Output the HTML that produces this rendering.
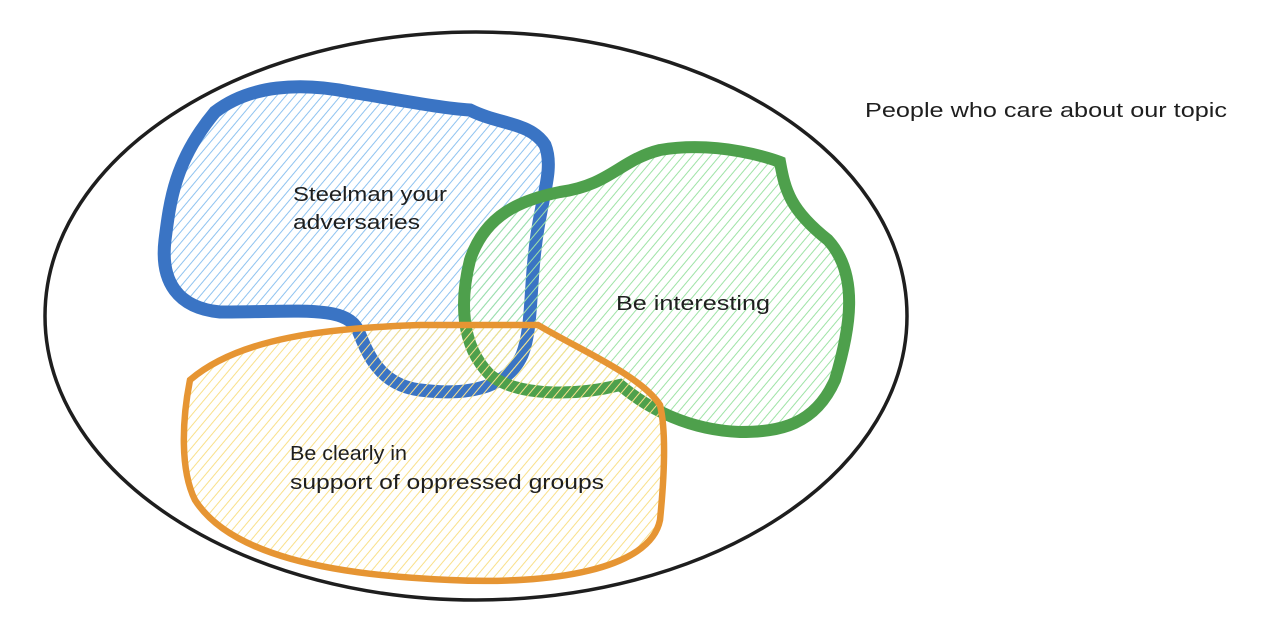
<!DOCTYPE html>
<html><head><style>
html,body{margin:0;padding:0;background:#fff;width:1286px;height:638px;overflow:hidden}
svg text{font-family:"Liberation Sans",sans-serif;fill:#1e1e1e}
</style></head><body>
<svg width="1286" height="638" viewBox="0 0 1286 638" xmlns="http://www.w3.org/2000/svg">
<defs>
<pattern id="hb" width="7" height="7" patternUnits="userSpaceOnUse" patternTransform="rotate(40)"><line x1="0" y1="0" x2="0" y2="7" stroke="#8fc3f0" stroke-width="2"/></pattern>
<pattern id="hg" width="7" height="7" patternUnits="userSpaceOnUse" patternTransform="rotate(40)"><line x1="0" y1="0" x2="0" y2="7" stroke="#9ee3a6" stroke-width="2"/></pattern>
<pattern id="ho" width="7" height="7" patternUnits="userSpaceOnUse" patternTransform="rotate(40)"><line x1="0" y1="0" x2="0" y2="7" stroke="#f9e08a" stroke-width="2"/></pattern>
</defs>
<ellipse cx="476" cy="316" rx="431" ry="284" fill="none" stroke="#1e1e1e" stroke-width="3.5"/>
<path d="M215,112 C250,85 300,82 350,92 C400,100 440,108 470,110 C500,125 530,122 545,145 C555,170 540,200 535,250 C530,290 532,330 522,355 C505,392 460,395 420,390 C380,385 368,355 358,330 C345,305 300,312 220,312 C178,308 160,282 165,240 C170,200 175,160 215,112 Z" fill="url(#hb)" stroke="#3a74c4" stroke-width="13"/>
<path d="M470,260 C485,215 520,200 560,192 C610,185 620,160 660,150 C720,140 775,160 780,162 C785,190 790,210 828,240 C860,275 850,330 835,380 C815,425 780,432 740,432 C690,430 650,410 620,385 C580,395 520,398 490,375 C460,345 460,300 470,260 Z" fill="url(#hg)" stroke="#4ea04c" stroke-width="12"/>
<path d="M190,380 C240,337 330,328 420,325 L538,325 C580,350 640,375 660,405 C666,430 665,470 660,520 C650,570 550,585 450,580 C330,575 230,555 195,500 C180,470 182,420 190,380 Z" fill="url(#ho)" stroke="#e69533" stroke-width="6.5"/>
<text x="293" y="201" font-size="20" textLength="154" lengthAdjust="spacingAndGlyphs">Steelman your</text>
<text x="293" y="229" font-size="20" textLength="127" lengthAdjust="spacingAndGlyphs">adversaries</text>
<text x="616" y="310" font-size="20" textLength="154" lengthAdjust="spacingAndGlyphs">Be interesting</text>
<text x="290" y="460" font-size="20" textLength="117" lengthAdjust="spacingAndGlyphs">Be clearly in</text>
<text x="290" y="489" font-size="20" textLength="314" lengthAdjust="spacingAndGlyphs">support of oppressed groups</text>
<text x="865" y="117" font-size="20" textLength="362" lengthAdjust="spacingAndGlyphs">People who care about our topic</text>
</svg>
</body></html>
